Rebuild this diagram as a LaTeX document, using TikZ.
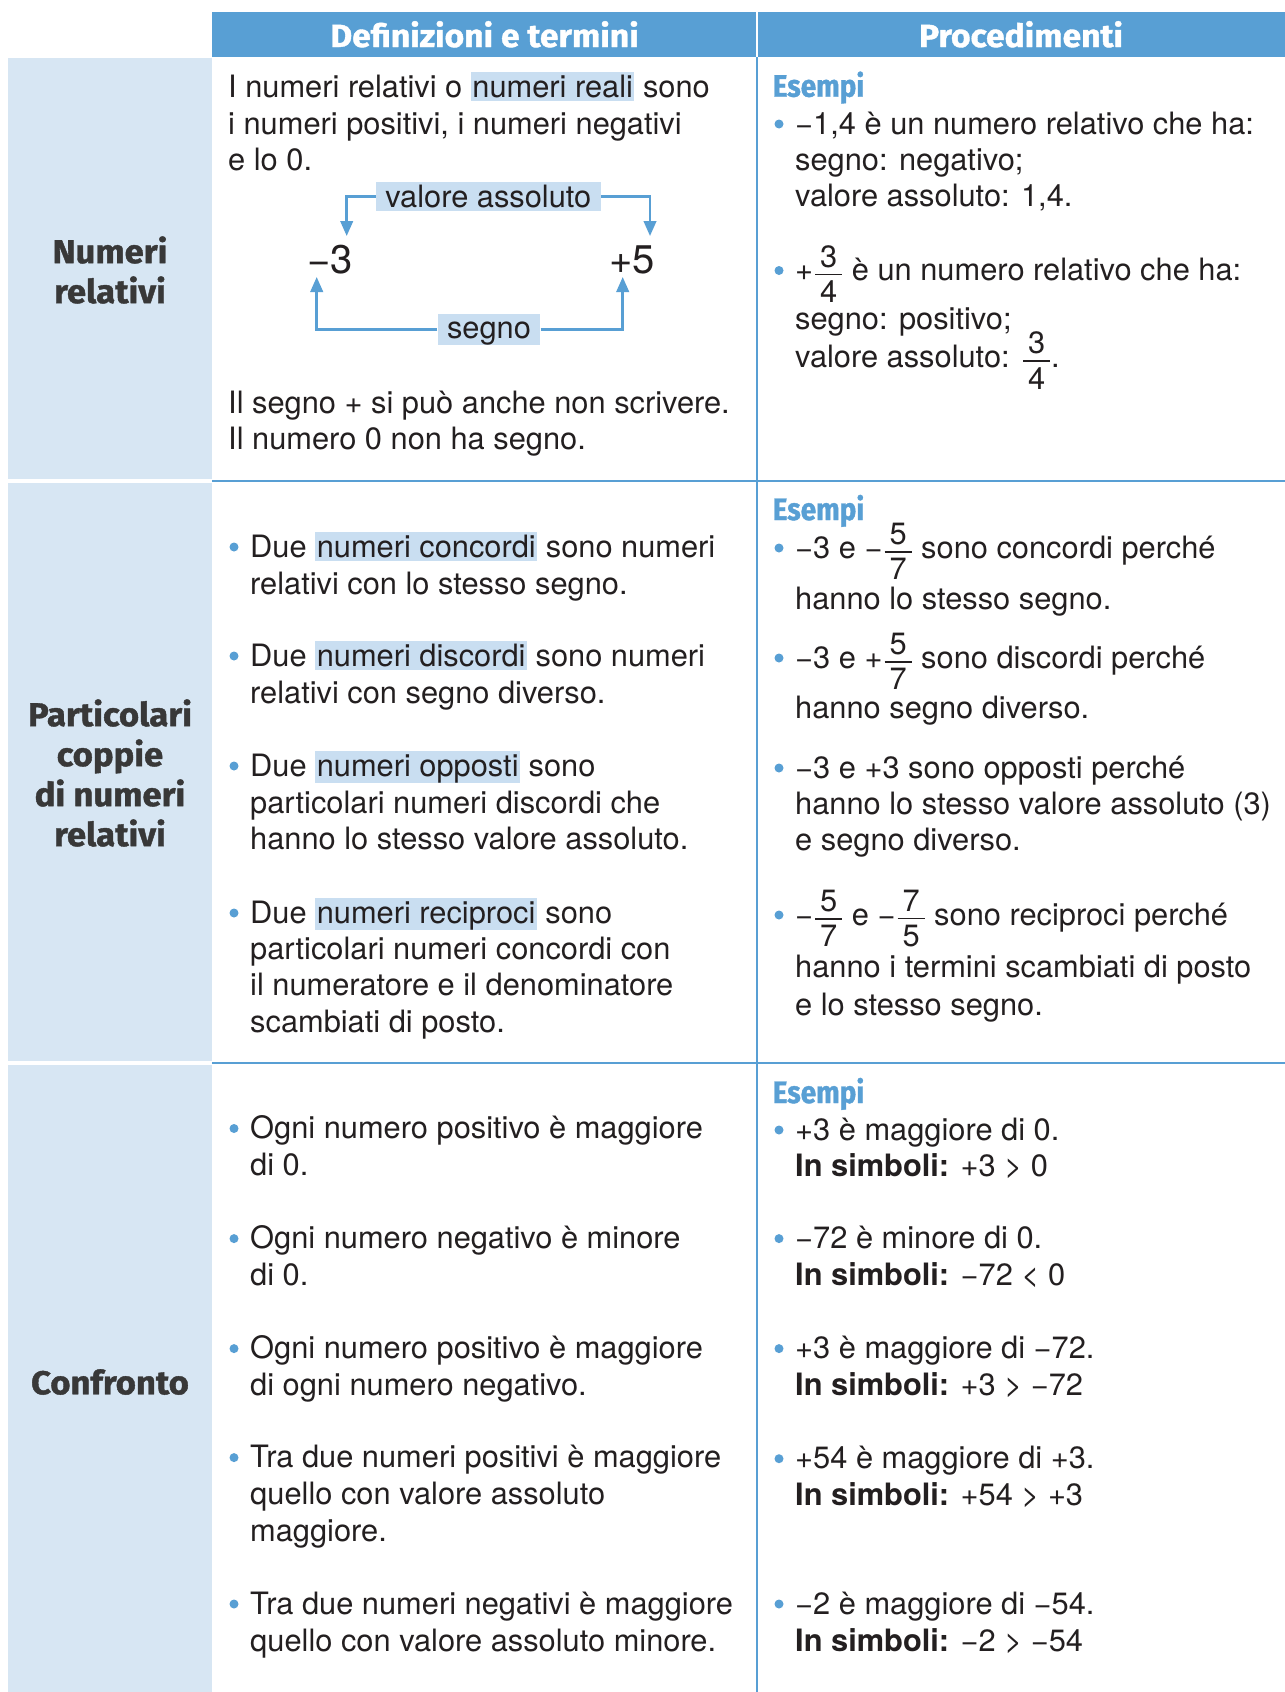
\documentclass[tikz,border=0pt]{standalone}
\usepackage{fontspec}
\setmainfont{TeX Gyre Heros}
\newfontfamily\headfam[FakeStretch=1.05,FakeBold=1.2]{Fira Sans}
\newfontfamily\esfam[FakeStretch=0.9,FakeBold=1.2]{Fira Sans}
\usetikzlibrary{arrows.meta}
\definecolor{hblue}{HTML}{589FD4}
\definecolor{colbg}{HTML}{D7E6F3}
\definecolor{hlblue}{HTML}{C9DEF1}
\definecolor{ink}{HTML}{231F20}
\definecolor{labgrey}{HTML}{383838}
% highlighted term
\newcommand\hl[2][1.5pt]{{\setlength\fboxsep{0pt}\colorbox{hlblue}{\vrule height 25pt depth 4pt width 0pt\kern#1\relax #2\kern#1\relax}}}
% fraction set in the text font, centred on the math axis
\newcommand\fr[2]{\kern2pt\relax\ensuremath{\vcenter{\offinterlineskip\ialign{\hfil\kern5pt##\kern5pt\hfil\cr#1\cr\noalign{\kern6pt\hrule height 1.2pt\kern6pt}#2\cr}}}\kern1pt\relax}
\newcommand\bodyfont{\fontsize{30.8}{37}\selectfont}
\newcommand\mn{\char"2212\relax}
\begin{document}
\begin{tikzpicture}[x=1pt,y=-1pt,
  txt/.style={anchor=base west,inner sep=0pt,font=\bodyfont,text=ink},
  head/.style={anchor=base,inner sep=0pt,font=\headfam\bfseries\fontsize{32}{36}\selectfont,text=white},
  esm/.style={anchor=base west,inner sep=0pt,font=\esfam\bfseries\fontsize{31}{34}\selectfont,text=hblue},
  lab/.style={align=center,inner sep=0pt,font=\headfam\bfseries\fontsize{33}{40}\selectfont,text=labgrey},
  big/.style={anchor=base west,inner sep=0pt,font=\fontsize{40}{48}\selectfont,text=ink},
  tag/.style={inner sep=0pt,font=\bodyfont,text=ink},
  grid/.style={draw=hblue,line width=2.5pt},
  conn/.style={draw=hblue,line width=2.5pt,-{Triangle[width=12.5pt,length=15pt]}}]
\path[use as bounding box] (0,0) rectangle (1285,1692);
\fill[white] (0,0) rectangle (1285,1692);
% left column
\fill[colbg] (8,58) rectangle (212,1692);
\fill[white] (8,479.3) rectangle (212,482.7);
\fill[white] (8,1061.3) rectangle (212,1064.7);
% header band
\fill[hblue] (212,12) rectangle (1285,57);
\draw[white,line width=2.5pt] (757,12) -- (757,57);
% table rules
\draw[grid] (212,481) -- (1285,481);
\draw[grid] (212,1063) -- (1285,1063);
\draw[grid] (757,57) -- (757,1692);

\node[head] (h1) at (484.5,47) {Definizioni e termini};
\node[head] (h2) at (1021,47) {Procedimenti};

\node[lab] (l1) at (110,270) {Numeri\\relativi};
\node[lab] (l2) at (110,773) {Particolari\\coppie\\di numeri\\relativi};
\node[lab] (l3) at (110,1382) {Confronto};

% ---- row 1, definitions
\node[txt] (d1a) at (228,97.4) {I numeri relativi o \hl{numeri reali} sono};
\node[txt] (d1b) at (228,134) {i numeri positivi, i numeri negativi};
\node[txt] (d1c) at (228,170) {e lo 0.};
\node[txt] (d1d) at (228,413.5) {Il segno + si può anche non scrivere.};
\node[txt] (d1e) at (228,449) {Il numero 0 non ha segno.};
% sign / absolute value diagram
\node[big] (m3) at (307,273) {\mn3};
\node[big] (p5) at (609,273) {+5};
\node[tag] (va) at (488.4,196.7) {\hl[9.5pt]{valore assoluto}};
\node[tag] (sg) at (489,329.5) {\hl[9.5pt]{segno}};
\draw[conn] (va.west) -| ([shift={(39.7pt,37pt)}]m3.base west);
\draw[conn] (va.east) -| ([shift={(41pt,37pt)}]p5.base west);
\draw[conn] (sg.west) -| ([shift={(9.7pt,-4pt)}]m3.base west);
\draw[conn] (sg.east) -| ([shift={(13.7pt,-4pt)}]p5.base west);

% ---- row 1, examples
\node[esm] (e1) at (772.5,96.7) {Esempi};
\node[txt] (x1a) at (795,134) {\mn1,4 è un numero relativo che ha:};
\node[txt] (x1b) at (795,170) {segno: negativo;};
\node[txt] (x1c) at (795,206.5) {valore assoluto: 1,4.};
\node[txt] (x1d) at (795,280.5) {+\fr{3}{4} è un numero relativo che ha:};
\node[txt] (x1e) at (795,329) {segno: positivo;};
\node[txt] (x1f) at (795,367) {valore assoluto: \fr{3}{4}.};

% ---- row 2, definitions
\node[txt] (d2a) at (250,557) {Due \hl{numeri concordi} sono numeri};
\node[txt] (d2b) at (250,594) {relativi con lo stesso segno.};
\node[txt] (d2c) at (250,666) {Due \hl{numeri discordi} sono numeri};
\node[txt] (d2d) at (250,703) {relativi con segno diverso.};
\node[txt] (d2e) at (250,776) {Due \hl{numeri opposti} sono};
\node[txt] (d2f) at (250,813) {particolari numeri discordi che};
\node[txt] (d2g) at (250,849) {hanno lo stesso valore assoluto.};
\node[txt] (d2h) at (250,923) {Due \hl{numeri reciproci} sono};
\node[txt] (d2i) at (250,959) {particolari numeri concordi con};
\node[txt] (d2j) at (250,995) {il numeratore e il denominatore};
\node[txt] (d2k) at (250,1032) {scambiati di posto.};

% ---- row 2, examples
\node[esm] (e2) at (772.5,520) {Esempi};
\node[txt] (x2a) at (795,558) {\mn3 e \mn\fr{5}{7} sono concordi perché};
\node[txt] (x2b) at (795,609) {hanno lo stesso segno.};
\node[txt] (x2c) at (795,668) {\mn3 e +\fr{5}{7} sono discordi perché};
\node[txt] (x2d) at (795,718) {hanno segno diverso.};
\node[txt] (x2e) at (795,778) {\mn3 e +3 sono opposti perché};
\node[txt] (x2f) at (795,814) {hanno lo stesso valore assoluto (3)};
\node[txt] (x2g) at (795,850.5) {e segno diverso.};
\node[txt] (x2h) at (795,925) {\mn\fr{5}{7} e \mn\fr{7}{5} sono reciproci perché};
\node[txt] (x2i) at (795,977) {hanno i termini scambiati di posto};
\node[txt] (x2j) at (795,1015) {e lo stesso segno.};

% ---- row 3, definitions
\node[txt] (d3a) at (250,1138.5) {Ogni numero positivo è maggiore};
\node[txt] (d3b) at (250,1175) {di 0.};
\node[txt] (d3c) at (250,1248.6) {Ogni numero negativo è minore};
\node[txt] (d3d) at (250,1285) {di 0.};
\node[txt] (d3e) at (250,1358.6) {Ogni numero positivo è maggiore};
\node[txt] (d3f) at (250,1395) {di ogni numero negativo.};
\node[txt] (d3g) at (250,1467.6) {Tra due numeri positivi è maggiore};
\node[txt] (d3h) at (250,1504) {quello con valore assoluto};
\node[txt] (d3i) at (250,1541) {maggiore.};
\node[txt] (d3j) at (250,1614) {Tra due numeri negativi è maggiore};
\node[txt] (d3k) at (250,1651) {quello con valore assoluto minore.};

% ---- row 3, examples
\node[esm] (e3) at (772.5,1103) {Esempi};
\node[txt] (x3a) at (795,1140) {+3 è maggiore di 0.};
\node[txt] (x3b) at (795,1176.7) {\textbf{In simboli:} +3 > 0};
\node[txt] (x3c) at (795,1248.6) {\mn72 è minore di 0.};
\node[txt] (x3d) at (795,1285) {\textbf{In simboli:} \mn72 < 0};
\node[txt] (x3e) at (795,1358.6) {+3 è maggiore di \mn72.};
\node[txt] (x3f) at (795,1395) {\textbf{In simboli:} +3 > \mn72};
\node[txt] (x3g) at (795,1468.7) {+54 è maggiore di +3.};
\node[txt] (x3h) at (795,1505.4) {\textbf{In simboli:} +54 > +3};
\node[txt] (x3i) at (795,1614) {\mn2 è maggiore di \mn54.};
\node[txt] (x3j) at (795,1651) {\textbf{In simboli:} \mn2 > \mn54};

% bullets
\foreach \n in {x1a,x1d,d2a,d2c,d2e,d2h,x2a,x2c,x2e,x2h,d3a,d3c,d3e,d3g,d3j,x3a,x3c,x3e,x3g,x3i}
  \fill[hblue] ([shift={(-16pt,10pt)}]\n.base west) circle (4.5pt);
\end{tikzpicture}
\end{document}
